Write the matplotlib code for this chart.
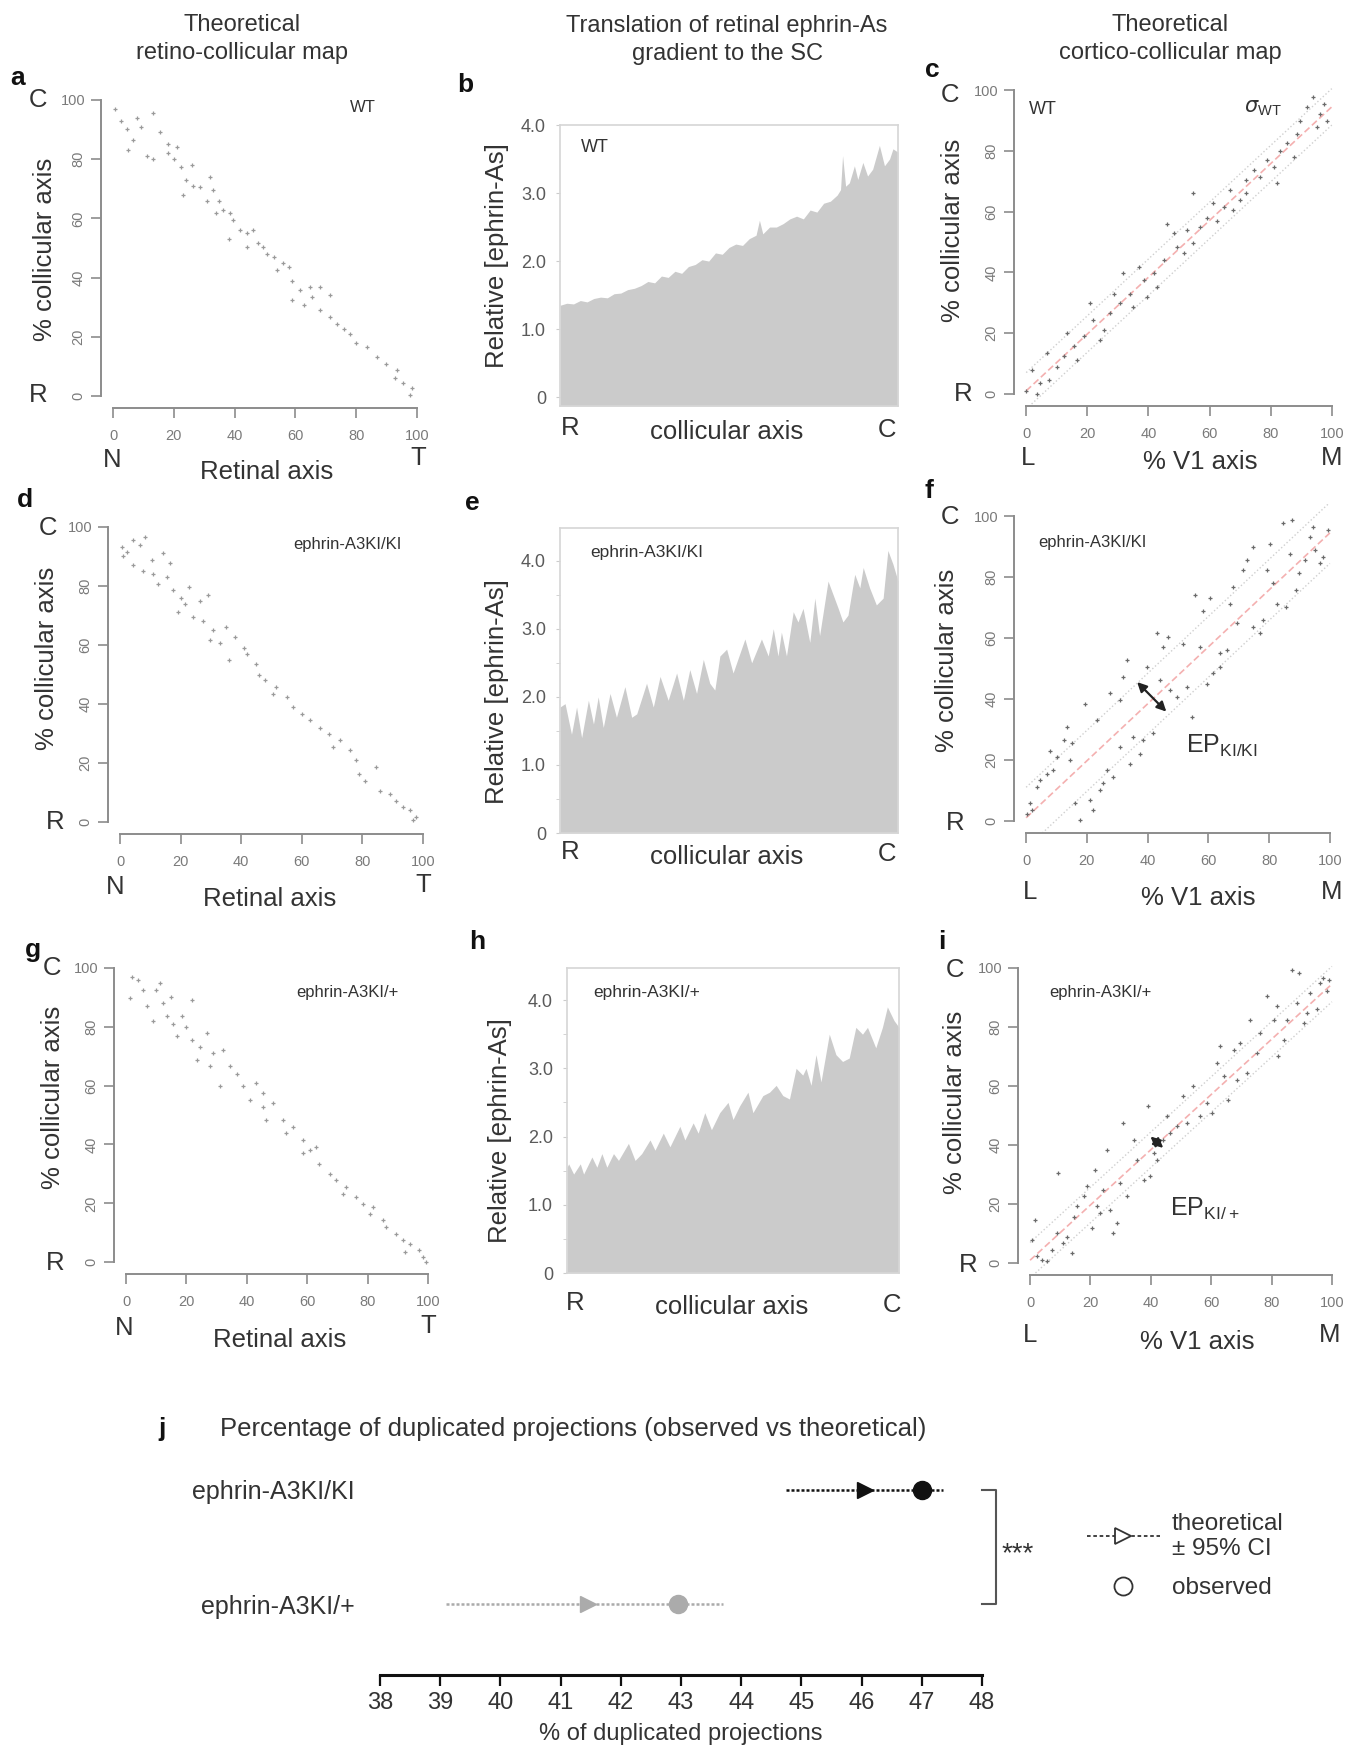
import numpy as np
import matplotlib
matplotlib.use('Agg')
import matplotlib.pyplot as plt
from matplotlib.lines import Line2D

plt.rcParams['font.family'] = ['Liberation Sans', 'DejaVu Sans']

# ---------------- data ----------------
# retino-collicular maps: (retinal axis %, collicular axis %)
a_points = [(0.5, 97), (2.7, 93), (7.7, 94), (13, 95.5), (4.4, 90), (9.3, 91), (6.6, 86.5),
            (4.9, 83), (11, 81), (13, 80), (15.4, 89), (18, 85), (20.9, 84), (18, 82), (20, 80),
            (22.5, 77.5), (25.8, 78), (24, 73), (23, 68), (26.4, 71), (28.6, 70.7), (30.8, 66),
            (32, 74), (33, 69.6), (35, 66), (34, 61.7), (36.3, 62.8), (38.5, 61.7), (39.6, 59.5),
            (38, 53), (41.8, 56), (44, 55), (46, 56), (44, 50.5), (47.8, 51.6), (50.5, 48),
            (49.5, 50.5), (53, 47), (54, 42.6), (56, 44.8), (58, 43.7), (59, 39), (58.8, 32.4),
            (61.5, 35.8), (63, 30.7), (64.8, 37), (65.4, 33.6), (68, 37), (71.4, 34), (68, 29),
            (71.4, 26.8), (73.6, 24.5), (76, 22.5), (78, 21), (80, 17.8), (83.5, 16.7), (86.8, 13.3),
            (90, 11), (93.4, 8.8), (92.9, 6), (95.6, 4.3), (98.4, 2.6), (97.8, 0.3)]
d_points = [(0.5, 93), (2.2, 91.5), (1.1, 90), (4.4, 95.5), (8.2, 96.6), (6.6, 94), (4.4, 87),
            (7.7, 85), (10.4, 88.7), (11, 84), (14.3, 91), (12.6, 80.8), (16.5, 87.6), (15.4, 83),
            (17.6, 78.5), (20, 76), (19, 71), (22.6, 79.7), (21.4, 74), (24, 69.5), (26.4, 75),
            (29, 77), (27.5, 68), (30.8, 65), (29.7, 61.6), (35, 66), (33, 60.5), (36, 55),
            (37.9, 62.7), (41, 59), (41.8, 57), (45, 53.7), (46, 50), (48, 48), (51.6, 45.8),
            (50.5, 43.5), (55, 42.4), (57, 39), (60, 36.7), (62.6, 34.5), (66, 32), (69, 30),
            (70.3, 25.4), (72.5, 27.7), (75.8, 24.3), (78, 21), (79, 16.4), (81, 14), (84.6, 18.6),
            (85.7, 10.7), (89, 9.6), (91, 7.3), (93.4, 5), (95.6, 4), (97.8, 1.7), (96.7, 0.6)]
g_points = [(1.9, 97), (4, 96), (1.3, 89.8), (5.7, 92.6), (6.8, 87), (10, 92.6), (11.2, 95),
            (9, 82), (12.3, 88), (15, 90), (13.5, 83.5), (15.5, 81), (18.4, 83.5), (16.8, 76.7),
            (21.7, 89), (20, 80), (22, 75.6), (26.7, 77.8), (24.5, 73), (23.4, 68.8), (28.9, 71),
            (27.8, 66.5), (32, 72), (31, 59.7), (34.4, 66.5), (36.6, 64), (38.8, 59.7), (41, 55),
            (43, 60.8), (45.4, 57.4), (45.4, 52.8), (46.5, 48.3), (48.7, 54), (52, 48.3), (53, 43.8),
            (55.3, 46), (58.7, 41.5), (60.9, 38), (58.7, 37), (63, 39.2), (64, 33.5), (67.5, 30),
            (69.7, 27.8), (73, 25.6), (71.9, 23.3), (76.3, 22), (78.5, 19.9), (80.7, 16.5),
            (81.8, 18.8), (85, 14.2), (86.2, 12), (89.5, 9.7), (91.7, 7.4), (93.9, 6.3), (92.3, 3.4),
            (97.2, 4), (98.3, 1.7), (99.4, 0)]

# cortico-collicular maps: (% V1 axis, % collicular axis)
c_points = [(0, 1), (1.9, 7.9), (4.6, 3.5), (3.5, 0), (6.8, 13.4), (7.3, 4.6), (10, 9), (13.3, 20),
            (12.2, 12.3), (15.5, 15.6), (16.6, 11.2), (18.8, 18.9), (21, 29.8), (22, 24.3),
            (24.2, 17.8), (25.3, 21), (28.6, 33), (27.5, 26.5), (30.8, 29.8), (31.8, 39.7), (34, 33),
            (35, 28.7), (36.8, 41.9), (38.4, 37.5), (39.5, 32), (41.7, 39.7), (42.7, 35.3), (45, 44),
            (46, 56), (48.2, 52.8), (49.3, 48.5), (51.5, 46.3), (52.6, 54), (54.7, 66), (54.7, 49.6),
            (57, 55), (59, 58), (61, 62.7), (62.4, 57), (64.6, 61.6), (66.7, 67), (67.8, 60.5),
            (70, 63.8), (72, 70.4), (72, 66), (74.4, 73.7), (76.6, 71.5), (78.7, 77), (81, 74.8),
            (82, 69.3), (83, 80), (85.3, 82.5), (87.5, 78), (88.5, 85.7), (89.6, 90), (91.8, 94.5),
            (94, 97.8), (95, 88), (96, 92.3), (97.3, 95.6), (98.4, 90)]
f_points = [(0.2, 2.4), (1.9, 3.5), (1.3, 5.7), (3.5, 11), (4.6, 13.3), (6.8, 15.5), (9, 16.6),
            (7.9, 23), (10, 21), (12.3, 26.5), (13.4, 30.9), (15, 25.4), (14.5, 20), (16, 5.7),
            (17.8, 0.2), (19.4, 38.5), (21, 6.8), (22, 3.5), (23.2, 33), (24.3, 10), (25.4, 12.3),
            (26.5, 16.6), (28.7, 14.4), (27.6, 41.8), (30.9, 24.3), (30.9, 39.6), (32, 47.3),
            (33.1, 52.7), (34.2, 18.8), (35.3, 27.6), (37.5, 22), (38.6, 26.5), (39.7, 50.5),
            (41.9, 28.7), (43, 61.5), (44.1, 46.2), (45.2, 57), (46.8, 60.4), (47.4, 42.9),
            (49.6, 40.7), (51.8, 58.2), (52.9, 44), (54.5, 34.1), (55.6, 74), (57.2, 57), (58.3, 69),
            (59.4, 45), (60.5, 73), (61.6, 48.4), (63.8, 55), (63.8, 50.5), (66, 56), (67.1, 71.3),
            (68.2, 76.8), (69.3, 64.8), (71.5, 82.3), (72.6, 85.6), (74.8, 90), (74.8, 63.7),
            (77, 61.5), (78, 65.9), (79.2, 82.3), (80.3, 91), (81.4, 78), (82.5, 71.3), (84.6, 97.6),
            (85.7, 70.2), (86.8, 87.7), (87.4, 98.7), (89, 75.7), (90, 81.2), (91.8, 85.6),
            (93.4, 93.2), (94.5, 96.5), (95, 88.8), (96.7, 84.5), (97.8, 86.7), (99.5, 95.4)]
i_points = [(0.6, 7.9), (1.7, 14.7), (2.2, 2.3), (3.9, 1.1), (5.5, 0.6), (7.2, 4.5), (8.8, 10.2),
            (9.4, 30.5), (11, 6.8), (12.2, 9), (13.8, 3.4), (14.4, 15.8), (15.5, 19.2), (17.7, 22.6),
            (18.8, 26), (20.4, 11.9), (21.5, 31.6), (22.1, 19.2), (23.2, 17), (24.3, 24.9),
            (25.4, 38.4), (26.5, 18), (27.6, 10.2), (28.7, 13.6), (29.8, 27.1), (30.9, 47.5),
            (32, 22.6), (34.3, 41.8), (35.4, 35), (37.6, 28.2), (39.2, 53.1), (39.8, 29.4),
            (40.9, 37.3), (42, 35), (44.2, 41.8), (45.3, 49.7), (46.4, 44), (48.6, 46.3),
            (50.8, 56.5), (51.9, 47.5), (54.1, 59.9), (56.4, 49.7), (58.6, 54.2), (60.2, 50.8),
            (61.9, 67.8), (63, 73.4), (64.1, 63.3), (65.7, 55.4), (67.4, 72.3), (68.5, 62.1),
            (69.6, 74.6), (71.8, 64.4), (72.9, 82.5), (75.1, 71.2), (76.2, 78), (78.5, 90.4),
            (80.7, 82.5), (81.8, 87), (82.3, 70), (84, 75.7), (85.1, 82.5), (86.7, 99.4), (88.4, 88.1),
            (89, 98.3), (90.6, 81.4), (91.7, 84.7), (92.8, 91.5), (95, 85.9), (96.1, 94.9),
            (97.2, 96.6), (98.3, 92), (98.9, 96)]

# fitted map line (slope, intercept) and half-width of the dotted band
fit_slope, fit_icpt = 0.935, 1.0
band_c, band_f, band_i = 6, 10, 6

# ephrin-A gradient along the collicular axis (position %, relative level)
b_pos = [0, 2, 4, 6, 8, 10, 12, 14, 16, 18, 20, 22, 24, 26, 28, 30, 32, 34, 36, 38, 40, 42, 44,
         46, 48, 50, 52, 54, 56, 58, 59, 60, 62, 64, 66, 68, 70, 72, 74, 76, 78, 80, 82, 83,
         83.6, 84.5, 85.6, 87.1, 88.1, 89.6, 91, 92.5, 94.5, 96, 97.5, 98.5, 100]
b_val = [1.35, 1.38, 1.37, 1.42, 1.40, 1.45, 1.47, 1.46, 1.52, 1.53, 1.58, 1.60, 1.64, 1.70,
         1.68, 1.78, 1.76, 1.85, 1.82, 1.92, 1.95, 2.02, 2.00, 2.12, 2.10, 2.20, 2.25, 2.23,
         2.33, 2.38, 2.60, 2.40, 2.50, 2.50, 2.55, 2.62, 2.66, 2.62, 2.75, 2.72, 2.85, 2.88,
         2.97, 3.05, 3.55, 3.10, 3.15, 3.40, 3.20, 3.45, 3.25, 3.35, 3.70, 3.40, 3.50, 3.65, 3.60]
e_pos = [0, 1.5, 3.4, 4.9, 6.4, 8.4, 9.9, 11.3, 12.8, 14.8, 16.7, 19.2, 21.2, 22.7, 25.6, 27.6,
         29.6, 32.0, 34.5, 36.5, 38.4, 40.4, 42.4, 44.3, 45.8, 47.3, 49.3, 51.2, 54.7, 56.7, 59.6,
         61.6, 63.1, 64.5, 65.5, 67.0, 69.0, 70.4, 71.9, 73.9, 75.4, 76.8, 79.3, 80.8, 82.3, 83.7,
         85.2, 87.2, 88.7, 89.7, 91.6, 93.6, 95.6, 97.0, 98.5, 100]
e_val = [1.85, 1.9, 1.45, 1.85, 1.4, 1.95, 1.6, 2.0, 1.55, 2.05, 1.7, 2.15, 1.7, 1.75, 2.2, 1.85,
         2.3, 1.95, 2.35, 1.95, 2.4, 2.05, 2.55, 2.2, 2.1, 2.6, 2.7, 2.35, 2.85, 2.5, 2.85, 2.6,
         3.0, 2.6, 2.95, 2.6, 3.25, 3.1, 3.3, 2.8, 3.45, 2.9, 3.7, 3.5, 3.3, 3.1, 3.2, 3.8, 3.6,
         3.9, 3.6, 3.35, 3.45, 4.15, 3.95, 3.7]
h_pos = [0, 0.5, 2, 4, 5, 7.5, 9, 10.5, 12, 14, 15.5, 18.5, 20.5, 22.5, 25, 26.5, 29, 31, 34,
         35.5, 38, 39.5, 41.5, 43.5, 46, 48.5, 50, 52, 54.5, 56, 59, 61, 63, 65, 67, 69, 71, 72,
         73.5, 75, 76.5, 79, 81, 83, 85, 87, 89, 90.5, 93, 95, 96.5, 98.5, 100]
h_val = [1.55, 1.6, 1.45, 1.6, 1.45, 1.7, 1.55, 1.75, 1.55, 1.75, 1.65, 1.9, 1.65, 1.75, 1.95,
         1.8, 2.05, 1.85, 2.15, 1.95, 2.2, 2.05, 2.35, 2.1, 2.35, 2.5, 2.25, 2.45, 2.65, 2.35,
         2.6, 2.65, 2.75, 2.6, 2.55, 3.0, 2.9, 3.0, 2.75, 3.2, 2.8, 3.5, 3.2, 3.1, 3.15, 3.6,
         3.5, 3.6, 3.3, 3.6, 3.9, 3.7, 3.6]

# panel j: % of duplicated projections
j_labels = ['ephrin-A3KI/KI', 'ephrin-A3KI/+']
j_theoretical = [46.05, 41.45]
j_ci_low = [44.75, 39.1]
j_ci_high = [47.35, 43.7]
j_observed = [47.0, 42.95]
j_colors = ['#111111', '#ababab']

# ---------------- figure ----------------
W, H = 1361, 1750
fig = plt.figure(figsize=(W / 100, H / 100), dpi=100)
TXT = '#333333'


def box(l, t, r, b):
    return [l / W, 1 - b / H, (r - l) / W, (b - t) / H]


def txt(x, y, s, **kw):
    kw.setdefault('ha', 'center')
    kw.setdefault('va', 'center')
    kw.setdefault('color', TXT)
    fig.text(x / W, 1 - y / H, s, **kw)


def map_panel(rect, points, pt_color):
    ax = fig.add_axes(box(*rect))
    xs, ys = zip(*points)
    ax.scatter(xs, ys, marker='+', s=12, linewidths=0.9, color=pt_color, zorder=3)
    ax.set_xlim(-4, 104)
    ax.set_ylim(-4, 104)
    ax.patch.set_alpha(0)
    for s in ['top', 'right']:
        ax.spines[s].set_visible(False)
    for s in ['left', 'bottom']:
        ax.spines[s].set_bounds(0, 100)
        ax.spines[s].set_color('#8c8c8c')
        ax.spines[s].set_linewidth(1.4)
    ticks = [0, 20, 40, 60, 80, 100]
    ax.set_xticks(ticks, [str(t) for t in ticks])
    ax.set_yticks(ticks, [str(t) for t in ticks])
    ax.tick_params(length=7, width=1.2, color='#8c8c8c', labelsize=10.5, labelcolor='#7a7a7a')
    ax.tick_params(axis='x', pad=8)
    ax.tick_params(axis='y', pad=4)
    for lab in ax.get_yticklabels():
        if lab.get_text() != '100':
            lab.set_rotation(90)
            lab.set_va('center')
    return ax


def fit_lines(ax, band):
    xx = np.array([0, 100])
    yy = fit_slope * xx + fit_icpt
    ax.plot(xx, yy, color='#f4b0b0', lw=1.2, ls=(0, (4, 2)), zorder=2)
    ax.plot(xx, yy + band, color='#cfcfcf', lw=1.0, ls=':', zorder=2)
    ax.plot(xx, yy - band, color='#cfcfcf', lw=1.0, ls=':', zorder=2)


def grad_panel(rect, pos, vals, ylim, minor):
    ax = fig.add_axes(box(*rect))
    ax.fill_between(pos, vals, ylim[0], color='#cbcbcb', lw=0)
    ax.set_xlim(0, 100)
    ax.set_ylim(*ylim)
    for s in ax.spines.values():
        s.set_color('#d6d6d6')
        s.set_linewidth(1.2)
    ax.set_xticks([])
    ax.set_yticks([0, 1, 2, 3, 4], ['0', '1.0', '2.0', '3.0', '4.0'])
    if minor:
        ax.set_yticks([0.5, 1.5, 2.5, 3.5], minor=True)
    ax.tick_params(axis='y', which='both', length=3, color='#cccccc', labelsize=13,
                   labelcolor='#5a5a5a', pad=7)
    return ax


# column titles
txt(242, 39, 'Theoretical\nretino-collicular map', fontsize=17, linespacing=1.3)
txt(727, 40, 'Translation of retinal ephrin-As\ngradient to the SC', fontsize=17, linespacing=1.3)
txt(1170, 39, 'Theoretical\ncortico-collicular map', fontsize=17, linespacing=1.3)

# left column
map_panel((101, 88, 429, 408), a_points, '#9a9a9a')
map_panel((108, 515, 435, 834), d_points, '#9a9a9a')
map_panel((114, 956, 440, 1274), g_points, '#9a9a9a')

txt(45, 249, '% collicular axis', fontsize=18.5, rotation=90)
txt(47, 658, '% collicular axis', fontsize=18.5, rotation=90)
txt(53, 1097, '% collicular axis', fontsize=18.5, rotation=90)
for (cx, cy, rx, ry) in [(38, 100, 38, 395), (48, 528, 55, 822), (52, 968, 55, 1263)]:
    txt(cx, cy, 'C', fontsize=18.5)
    txt(rx, ry, 'R', fontsize=18.5)
for (nx, ny, tx, xy, lx) in [(112, 460, 418, 458, 267), (115, 887, 423, 885, 270),
                             (124, 1328, 428, 1326, 280)]:
    txt(nx, ny, 'N', fontsize=18.5)
    txt(tx, xy, 'T', fontsize=18.5)
    txt(lx, ny + 12, 'Retinal axis', fontsize=18.5)
txt(363, 107, 'WT', fontsize=12)
txt(347, 545, 'ephrin-A3KI/KI', fontsize=12)
txt(347, 992, 'ephrin-A3KI/+', fontsize=12)

# middle column
grad_panel((560, 125, 898, 406), b_pos, b_val, (-0.13, 4.0), False)
grad_panel((560, 528, 898, 833), e_pos, e_val, (0, 4.48), True)
grad_panel((567, 968, 899, 1273), h_pos, h_val, (0, 4.47), True)
for (ylx, yly, ry, cy, mx) in [(497, 256, 428, 432, 0), (497, 692, 852, 857, 0),
                               (500, 1131, 1303, 1307, 5)]:
    txt(ylx, yly, 'Relative [ephrin-As]', fontsize=18.5, rotation=90)
    txt(570 + mx, ry, 'R', fontsize=18.5)
    txt(727 + mx, cy, 'collicular axis', fontsize=18.5)
    txt(887 + mx, ry + 2, 'C', fontsize=18.5)
txt(595, 148, 'WT', fontsize=13)
txt(647, 552, 'ephrin-A3KI/KI', fontsize=12.5)
txt(647, 992, 'ephrin-A3KI/+', fontsize=12.5)

# right column
ax_c = map_panel((1014, 78, 1344, 406), c_points, '#6a6a6a')
fit_lines(ax_c, band_c)
ax_f = map_panel((1014, 504, 1342, 833), f_points, '#6a6a6a')
fit_lines(ax_f, band_f)
ax_f.annotate('', xy=(46.8, 35.2), xytext=(35.9, 46.2),
              arrowprops=dict(arrowstyle='<|-|>', color='#222222', lw=1.6, mutation_scale=14))
ax_i = map_panel((1018, 956, 1344, 1275), i_points, '#6a6a6a')
fit_lines(ax_i, band_i)
ax_i.annotate('', xy=(44.8, 38.4), xytext=(39.2, 43.5),
              arrowprops=dict(arrowstyle='<|-|>', color='#222222', lw=1.6, mutation_scale=14))

txt(953, 230, '% collicular axis', fontsize=18.5, rotation=90)
txt(947, 660, '% collicular axis', fontsize=18.5, rotation=90)
txt(955, 1102, '% collicular axis', fontsize=18.5, rotation=90)
for (cx, cy, rx, ry) in [(950, 95, 963, 394), (950, 517, 955, 823), (955, 970, 968, 1265)]:
    txt(cx, cy, 'C', fontsize=18.5)
    txt(rx, ry, 'R', fontsize=18.5)
for (lx, ly, vx, vy, mx) in [(1028, 458, 1200, 462, 1332), (1030, 892, 1198, 898, 1332),
                             (1030, 1335, 1197, 1342, 1330)]:
    txt(lx, ly, 'L', fontsize=18.5)
    txt(vx, vy, '% V1 axis', fontsize=18.5)
    txt(mx, ly, 'M', fontsize=18.5)
txt(1043, 110, 'WT', fontsize=13)
txt(1263, 108, r'$\sigma_{\mathregular{WT}}$', fontsize=15)
txt(1092, 542, 'ephrin-A3KI/KI', fontsize=12)
txt(1100, 992, 'ephrin-A3KI/+', fontsize=12)
txt(1222, 746, r'$\mathregular{EP_{KI/KI}}$', fontsize=18)
txt(1205, 1209, r'$\mathregular{EP_{KI/+}}$', fontsize=18)

# panel letters
for (lx, ly, s) in [(18, 78, 'a'), (465, 85, 'b'), (932, 70, 'c'), (25, 500, 'd'),
                    (472, 503, 'e'), (929, 491, 'f'), (33, 950, 'g'), (477, 942, 'h'),
                    (942, 942, 'i'), (162, 1429, 'j')]:
    txt(lx, ly, s, fontsize=19, fontweight='bold', color='#111111')

# ---------------- panel j ----------------
axj = fig.add_axes(box(380, 1450, 982, 1675))
ypos = [1, 0]
for k in range(len(j_labels)):
    col = j_colors[k]
    axj.plot([j_ci_low[k], j_ci_high[k]], [ypos[k], ypos[k]], color=col, lw=1.8,
             ls=(0, (1.2, 0.8)), zorder=2)
    axj.plot(j_theoretical[k], ypos[k], marker='>', ms=12, color=col, lw=0, zorder=3)
    axj.plot(j_observed[k], ypos[k], marker='o', ms=13, color=col, lw=0, zorder=3)
axj.set_xlim(38, 48)
axj.set_ylim(-0.62, 1.35)
axj.patch.set_alpha(0)
for s in ['top', 'right', 'left']:
    axj.spines[s].set_visible(False)
axj.spines['bottom'].set_color('#111111')
axj.spines['bottom'].set_linewidth(2.2)
axj.set_xticks(range(38, 49))
axj.set_yticks(ypos, j_labels)
axj.tick_params(axis='x', length=8, width=1.6, color='#111111', labelsize=17, labelcolor=TXT, pad=4)
axj.tick_params(axis='y', length=0, labelsize=18, labelcolor=TXT, pad=18)

# significance bracket
axj.plot([48.0, 48.23, 48.23, 48.0], [1, 1, 0, 0], color='#555555', lw=1.5, clip_on=False)
axj.text(48.33, 0.44, '***', fontsize=20, color=TXT, va='center', ha='left')

txt(220, 1429, 'Percentage of duplicated projections (observed vs theoretical)',
    fontsize=18.5, ha='left')
txt(681, 1734, '% of duplicated projections', fontsize=17)

handles = [Line2D([], [], color='#333333', lw=1.3, ls=(0, (2, 1.5)), marker='>', ms=12,
                  markerfacecolor='white', markeredgecolor='#333333', markeredgewidth=1.3),
           Line2D([], [], color='#333333', lw=0, marker='o', ms=13,
                  markerfacecolor='white', markeredgecolor='#333333', markeredgewidth=1.3)]
fig.legend(handles, ['theoretical\n± 95% CI', 'observed'], loc='center left',
           bbox_to_anchor=(1087 / W, 1 - 1556 / H), frameon=False, fontsize=17.5,
           handlelength=3.0, handletextpad=0.5, labelspacing=0.7, borderpad=0,
           borderaxespad=0, labelcolor=TXT)

fig.savefig('out.png', dpi=100)
